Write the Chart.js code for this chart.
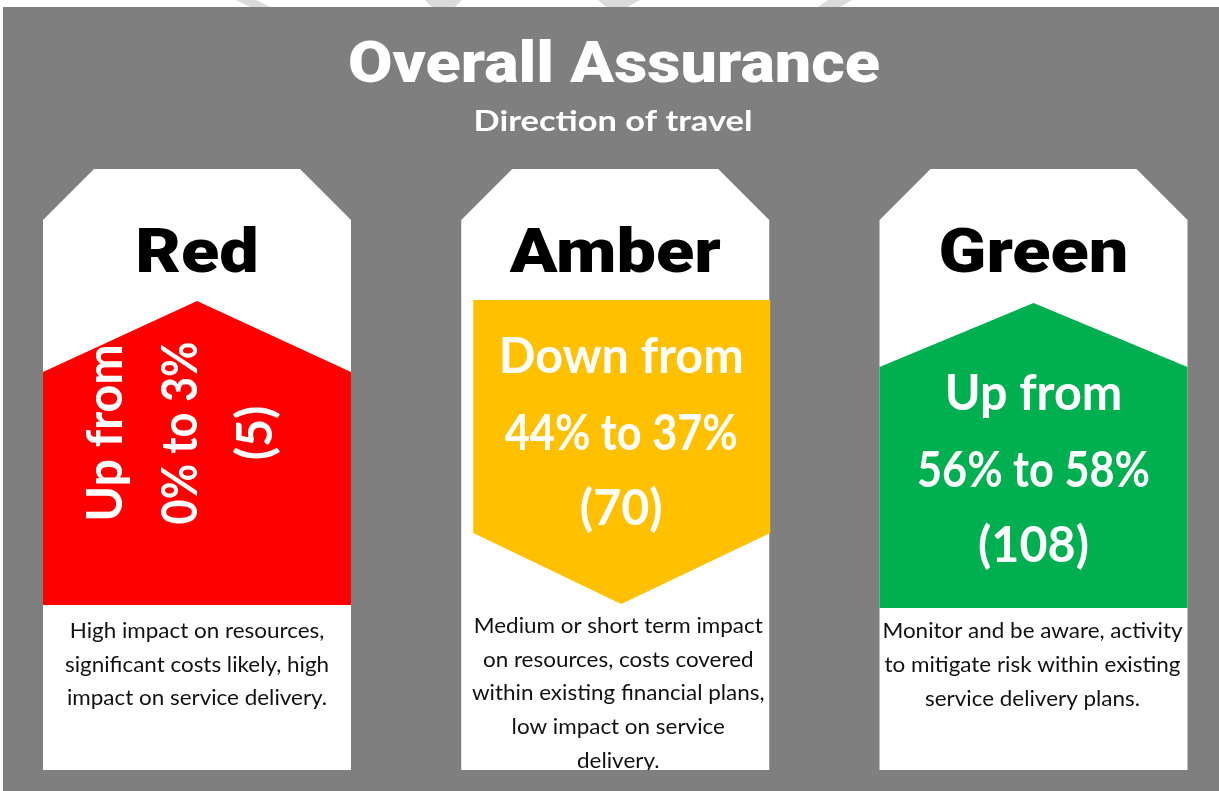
<!DOCTYPE html>
<html>
<head>
<meta charset="utf-8">
<script src="https://cdn.jsdelivr.net/npm/chart.js@4/dist/chart.umd.min.js"></script>
<style>
  html, body { margin: 0; padding: 0; background: #ffffff; overflow: hidden; }
  #wrap { width: 1219px; height: 791px; }
</style>
</head>
<body>
<div id="wrap"><canvas id="c" width="1219" height="791"></canvas></div>
<script>
// ---------- DATA ----------
const chartTitle = 'Overall Assurance';
const chartSubtitle = 'Direction of travel';
const categories = ['Red', 'Amber', 'Green'];
const previousPct = [0, 44, 56];
const currentPct = [3, 37, 58];
const riskCounts = [5, 70, 108];
const descriptions = [
  ['High impact on resources,', 'significant costs likely, high', 'impact on service delivery.'],
  ['Medium or short term impact', 'on resources, costs covered', 'within existing financial plans,', 'low impact on service', 'delivery.'],
  ['Monitor and be aware, activity', 'to mitigate risk within existing', 'service delivery plans.']
];
const ragColours = ['#FF0000', '#FFC000', '#00B050'];

// ---------- LAYOUT / STYLE ----------
const BG_GREY = '#7F7F7F';
const CARD = { w: 308, top: 169, bottom: 770, cut: 51 };
const ARROW = [
  { tip: 301, shoulder: 372, end: 605, inset: 0, shift: 0 },
  { start: 300, shoulder: 533, tip: 604, inset: 12, shift: 6 },
  { tip: 303, shoulder: 367, end: 608, inset: 0, shift: 0 }
];
const ARROW_TEXT = [
  { rotate: true, centerY: 433, gap: 75 },
  { rotate: false, shift: 6, baselines: [373, 450, 525] },
  { rotate: false, shift: 0, baselines: [410, 487, 562] }
];
const DESC = [
  { first: 638, step: 33.5, shift: 0 },
  { first: 633, step: 33.7, shift: 3 },
  { first: 638, step: 34, shift: -1 }
];
const F_HEAVY = '900 {s}px Roboto, "DejaVu Sans", sans-serif';
const F_BOLD = 'bold {s}px Lato, "Open Sans", sans-serif';
const F_REG = '{s}px Lato, "Open Sans", sans-serif';
const f = (tpl, s) => tpl.replace('{s}', s);

function fitScale(ctx, text, font, target) {
  ctx.save(); ctx.font = font;
  const w = ctx.measureText(text).width;
  ctx.restore();
  return target / w;
}
function drawText(ctx, text, x, y, font, sx, color) {
  ctx.save();
  ctx.font = font; ctx.fillStyle = color;
  ctx.textAlign = 'center'; ctx.textBaseline = 'alphabetic';
  ctx.translate(x, y); ctx.scale(sx, 1);
  ctx.fillText(text, 0, 0);
  ctx.restore();
}

const infographic = {
  id: 'infographic',
  beforeDraw(chart) {
    const ctx = chart.ctx;
    ctx.save();
    ctx.fillStyle = '#ffffff';
    ctx.fillRect(0, 0, chart.width, chart.height);
    // faint watermark stripes above the panel
    ctx.fillStyle = '#dadada';
    const stripes = [
      [[236,0],[256,0],[270,7],[250,7]],
      [[425,0],[462,0],[455,7],[432,7]],
      [[598,0],[640,0],[628,7],[606,7]],
      [[828,0],[852,0],[840,7],[818,7]]
    ];
    stripes.forEach(p => { ctx.beginPath(); p.forEach((q,k)=> k? ctx.lineTo(q[0],q[1]) : ctx.moveTo(q[0],q[1])); ctx.closePath(); ctx.fill(); });
    ctx.fillStyle = BG_GREY;
    ctx.fillRect(3, 7, chart.width - 3, chart.height - 7);
    ctx.restore();

    // title + subtitle
    const tFont = f(F_HEAVY, 58);
    drawText(ctx, chartTitle, 614, 82, tFont, fitScale(ctx, chartTitle, tFont, 532), '#ffffff');
    const sFont = f(F_BOLD, 29);
    drawText(ctx, chartSubtitle, 613, 131, sFont, fitScale(ctx, chartSubtitle, sFont, 279), '#ffffff');
  },
  afterDatasetsDraw(chart) {
    const ctx = chart.ctx;
    const xs = chart.scales.x;
    const hFont = f(F_HEAVY, 62);
    const hScale = fitScale(ctx, 'Amber', hFont, 211);
    const bFont = f(F_BOLD, 49);
    const bScale = fitScale(ctx, 'Down from', bFont, 245);
    const pScale = fitScale(ctx, '44% to 37%', bFont, 233);
    const dFont = f(F_REG, 21);
    const dScale = fitScale(ctx, 'Medium or short term impact', dFont, 289);

    categories.forEach((cat, i) => {
      const cx = xs.getPixelForValue(i);
      const L = cx - CARD.w / 2, R = cx + CARD.w / 2;
      // card
      ctx.save();
      ctx.beginPath();
      ctx.moveTo(L, CARD.top + CARD.cut);
      ctx.lineTo(L + CARD.cut, CARD.top);
      ctx.lineTo(R - CARD.cut, CARD.top);
      ctx.lineTo(R, CARD.top + CARD.cut);
      ctx.lineTo(R, CARD.bottom);
      ctx.lineTo(L, CARD.bottom);
      ctx.closePath();
      ctx.fillStyle = '#ffffff';
      ctx.fill();
      ctx.restore();

      // heading
      drawText(ctx, cat, cx, 272, hFont, hScale, '#000000');

      // arrow
      const up = currentPct[i] >= previousPct[i];
      const a = ARROW[i];
      ctx.save();
      ctx.fillStyle = ragColours[i];
      ctx.beginPath();
      if (up) {
        ctx.moveTo(L, a.shoulder);
        ctx.lineTo(cx, a.tip);
        ctx.lineTo(R, a.shoulder);
        ctx.lineTo(R, a.end);
        ctx.lineTo(L, a.end);
      } else {
        const aL = L + a.inset, aR = R + 1, ac = cx + a.shift;
        ctx.moveTo(aL, a.start);
        ctx.lineTo(aR, a.start);
        ctx.lineTo(aR, a.shoulder);
        ctx.lineTo(ac, a.tip);
        ctx.lineTo(aL, a.shoulder);
      }
      ctx.closePath();
      ctx.fill();
      ctx.restore();

      // arrow text
      const lines = [
        (up ? 'Up from' : 'Down from'),
        previousPct[i] + '% to ' + currentPct[i] + '%',
        '(' + riskCounts[i] + ')'
      ];
      const scales = [bScale, pScale, bScale];
      const t = ARROW_TEXT[i];
      if (t.rotate) {
        ctx.save();
        ctx.translate(cx, t.centerY);
        ctx.rotate(-Math.PI / 2);
        lines.forEach((ln, k) => drawText(ctx, ln, 0, (k - 1) * t.gap, bFont, scales[k], '#ffffff'));
        ctx.restore();
      } else {
        lines.forEach((ln, k) => drawText(ctx, ln, cx + t.shift, t.baselines[k], bFont, scales[k], '#ffffff'));
      }

      // description (clipped to card)
      const d = DESC[i];
      ctx.save();
      ctx.beginPath();
      ctx.rect(L, CARD.top, CARD.w, CARD.bottom - CARD.top);
      ctx.clip();
      descriptions[i].forEach((ln, k) => drawText(ctx, ln, cx + d.shift, d.first + k * d.step, dFont, dScale, '#111111'));
      ctx.restore();
    });
  }
};

function build() {
  const unit = (1033.5 - 197) / 2;
  const xMin = -197 / unit;
  const xMax = xMin + 1219 / unit;
  new Chart(document.getElementById('c'), {
    type: 'bar',
    data: {
      datasets: [{
        label: 'Current share (%)',
        data: categories.map((c, i) => ({ x: i, y: currentPct[i] })),
        backgroundColor: 'rgba(0,0,0,0)',
        borderWidth: 0
      }]
    },
    options: {
      responsive: false,
      animation: false,
      layout: { padding: 0 },
      scales: {
        x: { type: 'linear', min: xMin, max: xMax, offset: false, display: false,
             grid: { offset: false },
             ticks: { callback: v => categories[v] } },
        y: { min: 0, max: 100, display: false }
      },
      plugins: { legend: { display: false }, tooltip: { enabled: false }, title: { display: false } }
    },
    plugins: [infographic]
  });
}
const fontsToLoad = ['900 60px Roboto', 'bold 40px Lato', '20px Lato'];
Promise.all(fontsToLoad.map(s => document.fonts.load(s).catch(() => null))).then(build, build);
</script>
</body>
</html>
